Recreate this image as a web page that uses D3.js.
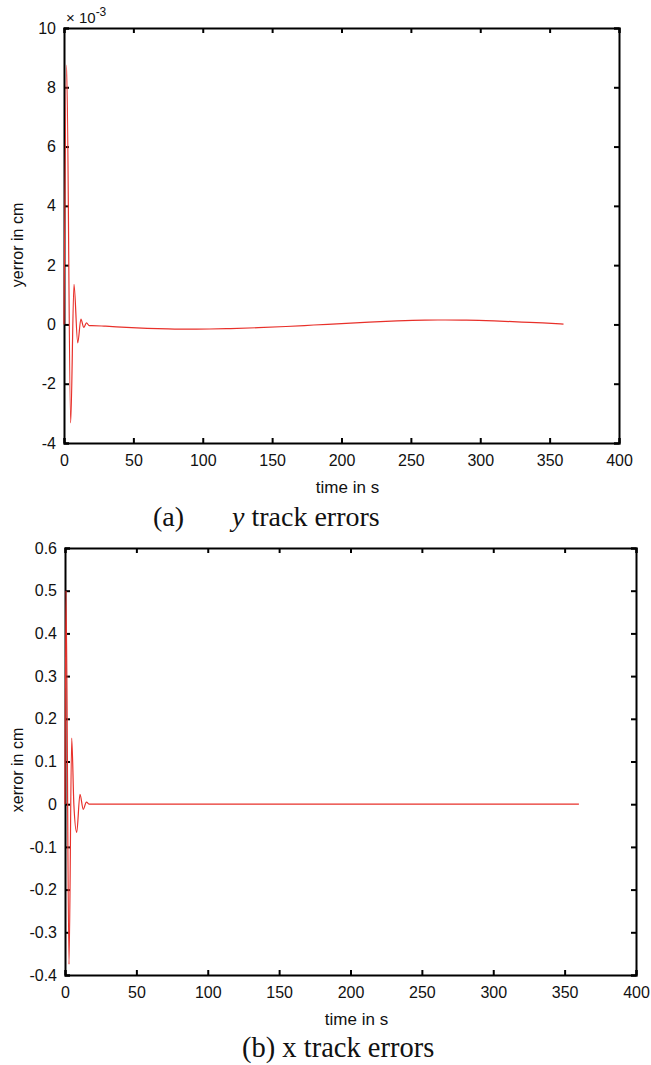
<!DOCTYPE html>
<html><head><meta charset="utf-8">
<script src="https://cdn.jsdelivr.net/npm/d3@7"></script>
<style>body{margin:0;background:#fff}svg{display:block}</style>
</head><body>
<script>
// ---- data ----
const yTime = [0, 1.9, 4.8, 7.2, 9.9, 12.2, 14.2, 16.2, 18.2, 20, 30, 45, 60, 75, 90, 105, 120, 140, 160, 180, 200, 220, 240, 260, 275, 290, 310, 330, 345, 360];
const yErr  = [0, 8.75, -3.32, 1.35, -0.62, 0.18, -0.1, 0.05, -0.04, -0.04, -0.06, -0.1, -0.13, -0.15, -0.16, -0.155, -0.14, -0.11, -0.07, -0.02, 0.03, 0.08, 0.12, 0.145, 0.15, 0.145, 0.12, 0.08, 0.05, 0.01];
const xTime = [0, 0.7, 2.8, 4.7, 6.2, 8.2, 10.5, 12.8, 15, 17, 20, 60, 120, 200, 280, 360];
const xErr  = [0, 0.5, -0.375, 0.155, 0.0, -0.066, 0.023, -0.012, 0.005, 0, 0, 0, 0, 0, 0, 0];
const xTicks = [0, 50, 100, 150, 200, 250, 300, 350, 400];
const yTicksA = [-4, -2, 0, 2, 4, 6, 8, 10];
const yTicksB = [-0.4, -0.3, -0.2, -0.1, 0, 0.1, 0.2, 0.3, 0.4, 0.5, 0.6];

const svg = d3.select("body").append("svg").attr("width", 651).attr("height", 1065);
const FONT = "'Liberation Sans', Arial, sans-serif";
const SERIF = "'Liberation Serif', 'Times New Roman', serif";

function panel(cfg) {
  const x = d3.scaleLinear().domain([0, 400]).range([cfg.left, cfg.right]);
  const y = d3.scaleLinear().domain(cfg.ydom).range([cfg.bottom, cfg.top]);
  const g = svg.append("g");
  const tickLen = 5;
  const axB = g.append("g").attr("transform", `translate(0,${cfg.bottom})`)
    .call(d3.axisBottom(x).tickValues(xTicks).tickSize(-tickLen).tickPadding(12).tickFormat(d3.format("d")));
  const axT = g.append("g").attr("transform", `translate(0,${cfg.top})`)
    .call(d3.axisTop(x).tickValues(xTicks).tickSize(-tickLen).tickFormat(""));
  const axL = g.append("g").attr("transform", `translate(${cfg.left},0)`)
    .call(d3.axisLeft(y).tickValues(cfg.yticks).tickSize(-tickLen).tickPadding(8).tickFormat(cfg.fmt));
  const axR = g.append("g").attr("transform", `translate(${cfg.right},0)`)
    .call(d3.axisRight(y).tickValues(cfg.yticks).tickSize(-tickLen).tickFormat(""));
  [axB, axT, axL, axR].forEach(a => {
    a.select(".domain").attr("stroke", "#000").attr("stroke-width", 2);
    a.selectAll(".tick line").attr("stroke", "#000").attr("stroke-width", 2);
    a.selectAll(".tick text").attr("font-family", FONT).attr("font-size", 16).attr("fill", "#111");
  });
  const line = d3.line().x(d => x(d[0])).y(d => y(d[1])).curve(d3.curveMonotoneX);
  g.append("path").datum(cfg.t.map((t, i) => [t, cfg.v[i]]))
    .attr("d", line).attr("fill", "none").attr("stroke", "#e8302a").attr("stroke-width", 1.2);
  g.append("text").attr("x", (cfg.left + cfg.right) / 2 + 6).attr("y", cfg.bottom + 50)
    .attr("text-anchor", "middle").attr("font-family", FONT).attr("font-size", 17).attr("fill", "#111").text("time in s");
  g.append("text").attr("transform", `translate(${cfg.ylx},${cfg.yly}) rotate(-90)`)
    .attr("text-anchor", "middle").attr("font-family", FONT).attr("font-size", 16).attr("fill", "#111").text(cfg.ylabel);
  return {x, y, g};
}

panel({left: 64, right: 619, top: 28, bottom: 443, ydom: [-4, 10], yticks: yTicksA,
  fmt: d => String(d), t: yTime, v: yErr, ylabel: "yerror in cm", ylx: 23, yly: 245});
panel({left: 65, right: 636, top: 548, bottom: 975, ydom: [-0.4, 0.6], yticks: yTicksB,
  fmt: d => d === 0 ? "0" : d.toFixed(1), t: xTime, v: xErr, ylabel: "xerror in cm", ylx: 23, yly: 770});

// exponent label
const ex = svg.append("text").attr("x", 66).attr("y", 23).attr("font-family", FONT).attr("font-size", 15).attr("fill", "#111");
ex.append("tspan").text("\u00d7 10");
ex.append("tspan").attr("dy", -7).attr("font-size", 12).text("-3");

// captions
const capA = svg.append("text").attr("x", 153).attr("y", 526).attr("font-family", SERIF).attr("font-size", 28).attr("fill", "#111");
capA.append("tspan").text("(a)");
capA.append("tspan").attr("x", 232).attr("font-style", "italic").text("y");
capA.append("tspan").text(" track errors");
svg.append("text").attr("x", 242).attr("y", 1057).attr("font-family", SERIF).attr("font-size", 28.5).attr("fill", "#111").text("(b) x track errors");
</script>
</body></html>
